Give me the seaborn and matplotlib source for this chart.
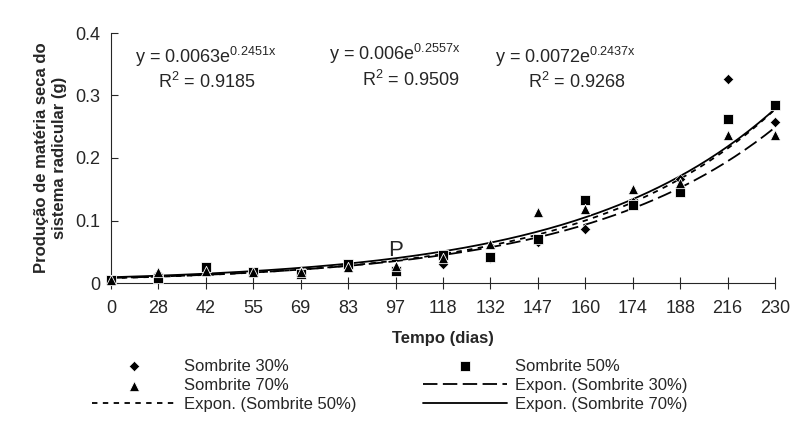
import numpy as np
import pandas as pd
import seaborn as sns
import matplotlib.pyplot as plt

dias = ['0', '28', '42', '55', '69', '83', '97', '118', '132', '147', '160', '174', '188', '216', '230']
s30 = [0.005, 0.015, 0.022, 0.018, 0.018, 0.025, 0.022, 0.03, 0.04, 0.065, 0.086, 0.13, 0.166, 0.327, 0.257]
s50 = [0.005, 0.008, 0.026, 0.017, 0.015, 0.031, 0.02, 0.045, 0.042, 0.071, 0.133, 0.125, 0.145, 0.262, 0.284]
s70 = [0.005, 0.018, 0.02, 0.017, 0.017, 0.025, 0.027, 0.04, 0.063, 0.113, 0.118, 0.151, 0.16, 0.237, 0.237]
fits = {'30%': (0.0063, 0.2451), '50%': (0.006, 0.2557), '70%': (0.0072, 0.2437)}

sns.set_style('ticks')
plt.rcParams['font.family'] = ['Liberation Sans', 'DejaVu Sans']
plt.rcParams['mathtext.default'] = 'regular'

fig = plt.figure(figsize=(7.93, 4.45), dpi=100)
ax = fig.add_axes([111/793, 1-283/445, 664/793, 250/445])
pos = np.arange(len(dias))
df = pd.DataFrame({'x': pos, 's30': s30, 's50': s50, 's70': s70})
for col, m, sz, lab in [('s30', 'D', 28, 'Sombrite 30%'), ('s50', 's', 50, 'Sombrite 50%'), ('s70', '^', 55, 'Sombrite 70%')]:
    sns.scatterplot(data=df, x='x', y=col, marker=m, s=sz, color='black', ax=ax, label=lab, clip_on=False, zorder=3)

xs = np.linspace(0, len(dias) - 1, 200)
styles = {'30%': (0, (8, 3)), '50%': (0, (3, 3)), '70%': '-'}
for k, (a, b) in fits.items():
    sns.lineplot(x=xs, y=a * np.exp(b * (xs + 1)), color='black', lw=1.3, linestyle=styles[k], ax=ax,
                 label='Expon. (Sombrite %s)' % k)

ax.set_xlim(0, len(dias) - 1)
ax.set_ylim(0, 0.4)
ax.set_xticks(pos)
ax.set_xticklabels(dias)
ax.set_yticks([0, 0.1, 0.2, 0.3, 0.4])
ax.set_yticklabels(['0', '0.1', '0.2', '0.3', '0.4'])
ax.tick_params(labelsize=13, direction='in', length=5)
ax.tick_params(axis='y', pad=8)
ax.tick_params(axis='x', direction='inout', length=8, pad=8)
for sp in ['top', 'right']:
    ax.spines[sp].set_visible(False)
ax.set_xlabel('Tempo (dias)', fontsize=12, fontweight='bold', labelpad=10)
ax.set_ylabel('Produção de matéria seca do\nsistema radicular (g)', fontsize=12, fontweight='bold', labelpad=6)

ax.text(0.5, 0.352, 'y = 0.0063e$^{0.2451x}$', fontsize=13, ha='left')
ax.text(1.0, 0.312, 'R$^2$ = 0.9185', fontsize=13, ha='left')
ax.text(4.6, 0.356, 'y = 0.006e$^{0.2557x}$', fontsize=13, ha='left')
ax.text(5.3, 0.316, 'R$^2$ = 0.9509', fontsize=13, ha='left')
ax.text(8.1, 0.352, 'y = 0.0072e$^{0.2437x}$', fontsize=13, ha='left')
ax.text(8.8, 0.312, 'R$^2$ = 0.9268', fontsize=13, ha='left')
ax.text(6.0, 0.043, 'P', fontsize=16, ha='center')

h, l = ax.get_legend_handles_labels()
order = [0, 2, 4, 1, 3, 5]
ax.legend([h[i] for i in order], [l[i] for i in order], ncol=2, loc='upper center',
          bbox_to_anchor=(0.42, -0.27), frameon=False, fontsize=12,
          handlelength=5, columnspacing=4, labelspacing=0.25, borderpad=0, handletextpad=0.5)
fig.savefig('out.png', dpi=100)
